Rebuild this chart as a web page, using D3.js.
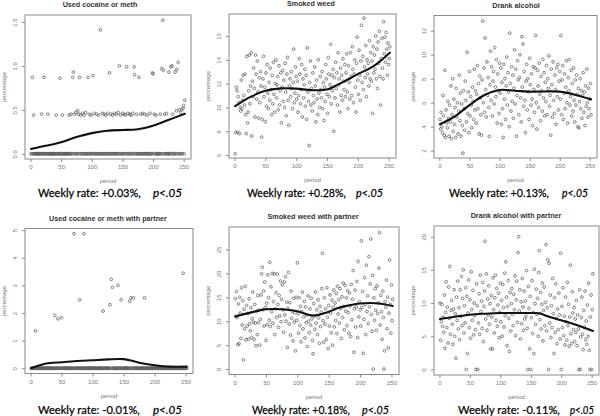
<!DOCTYPE html>
<html><head><meta charset="utf-8">
<script src="https://cdn.jsdelivr.net/npm/d3@7"></script>
<style>body{margin:0;background:#fff}svg{display:block;background:#fff}</style>
</head><body>
<svg id="c" width="600" height="416"></svg>
<script>
// ---------------- DATA ----------------
const titles = ["Used cocaine or meth","Smoked weed","Drank alcohol",
  "Used cocaine or meth with partner","Smoked weed with partner","Drank alcohol with partner"];
const rateLabels = ["Weekly rate: +0.03%,","Weekly rate: +0.28%,","Weekly rate: +0.13%,",
  "Weekly rate: -0.01%,","Weekly rate: +0.18%,","Weekly rate: -0.11%,"];
const pLabel = "p<.05";
const xTickValues = [0,50,100,150,200,250];
const yTickValues = [[0,0.5,1,1.5],[6,8,10,12,14,16],[2,4,6,8,10,12],[0,1,2,3,4,5],[0,5,10,15,20,25],[0,5,10,15,20]];
const xAxisTitle = "period";
const yAxisTitle = "percentage";

// smooth (loess) curves, read at these periods
const smoothPeriods = [1,25,50,75,100,125,150,165,175,200,225,252];
const cocaineSmooth = [0.055,0.09,0.13,0.19,0.235,0.262,0.27,0.273,0.278,0.32,0.385,0.455];
const weedSmooth = [10.1,10.86,11.4,11.6,11.58,11.45,11.5,11.85,12.1,12.8,13.45,14.6];
const alcoholSmooth = [4.2,4.83,5.8,6.64,7.06,7.0,6.92,6.93,6.94,6.92,6.67,6.28];
const cocainePartnerSmooth = [0.0,0.17,0.22,0.26,0.29,0.32,0.33,0.26,0.2,0.11,0.06,0.06];
const weedPartnerSmooth = [11.0,11.8,12.5,12.5,12.1,11.2,12.0,12.75,13.1,13.7,13.75,13.2];
const alcoholPartnerSmooth = [7.6,7.95,8.25,8.4,8.5,8.5,8.5,8.45,8.1,7.4,6.7,5.8];

// weekly values, periods 1..252
const cocaineValues = [
0,0,0.87,0,0.44,0,0,0,0,0,0,0,0,0,0,0,0,0.45,0,0,
0,0.87,0,0,0,0,0,0.45,0,0,0,0,0,0,0,0,0,0,0,0,
0,0.44,0,0,0,0,0,0.86,0,0,0,0.44,0,0,0,0,0,0,0,0,
0,0,0.44,0,0,0.45,0,0,0.87,0.93,0,0.45,0,0.47,0,0,0.49,0,0.45,0.87,
0,0.44,0,0,0.46,0,0.44,0,0,0.47,0,0,0,0.87,0,0.45,0,0,0.44,0,
0,0.89,0,0.46,0,0,0,0.45,0,0,0.44,0,0,1.41,0,0,0.46,0,0,0.45,
0,0,0.44,0,0,0.46,0,0,0.92,0,0.45,0,0,0.44,0,0,0.46,0,0,0.45,
0,0,0.47,0,1.0,0,0.44,0,0,0.46,0,0,0.45,0,0.44,0,0.99,0,0.46,0,
0,0.45,0,0.44,0,0,0.46,0,0.99,0.9,0,0,0.45,0,0,0,0.87,0,0,0.45,
0,0,0.46,0,0,0.45,0,0,0,0.44,0,0,0,0,0.46,0,0,0,0.92,0.91,
0,0.45,0,0,0.44,0,0,0,0,0,0,0.45,0,0.97,0,1.52,0.95,0,0.45,0,
0,0.46,0,0,0,0.93,0,0,0.99,0,1.0,0.45,0,0,0,0.93,0,0.49,0.96,0,
1.04,0,0.5,0,0.47,0,0.5,0,0.52,0.55,0,0.61];
const weedValues = [
6.1,7.9,11.7,11.4,7.9,10.9,10.4,7.8,10.0,9.7,12.3,9.9,10.6,12.7,11.0,10.2,12.8,9.4,7.8,14.3,
8.7,9.6,11.4,14.4,10.3,11.8,14.6,7.6,12.2,10.9,13.3,11.6,9.2,14.4,12.8,10.7,13.9,11.3,9.1,12.5,
10.4,13.0,11.8,7.5,9.0,12.4,14.3,10.9,11.7,8.8,12.9,10.1,13.6,11.2,9.9,12.1,10.6,13.3,11.5,9.4,
12.7,10.3,13.8,11.1,9.6,12.0,14.0,10.8,11.9,12.6,9.8,13.5,10.2,11.4,12.9,8.7,11.7,13.1,10.5,12.3,
10.0,13.7,11.3,9.3,12.8,14.2,10.6,8.5,11.8,12.4,10.9,13.0,11.6,9.9,12.1,14.9,10.4,11.2,13.4,12.6,
10.7,12.2,9.6,11.0,14.1,12.8,10.3,11.5,13.6,9.2,12.4,10.8,11.9,13.2,10.1,12.7,9.0,15.0,11.3,10.5,
6.8,12.1,13.9,10.2,11.6,9.7,12.9,11.0,10.4,13.4,11.8,8.8,12.3,10.7,9.4,14.0,11.2,10.0,12.6,11.5,
10.8,13.0,9.9,12.1,8.9,11.7,10.5,13.6,12.4,11.1,9.5,14.2,12.8,10.9,11.9,15.3,10.3,12.7,11.4,13.2,
8.0,12.5,10.8,13.8,11.6,12.9,10.2,14.6,11.9,12.4,9.6,13.3,11.0,12.7,10.6,14.1,12.2,11.5,13.6,10.9,
12.9,14.5,11.3,9.9,13.5,12.1,10.7,14.6,12.6,11.0,15.1,13.2,10.4,12.8,14.0,11.7,9.6,13.7,15.9,12.3,
11.1,14.8,12.7,10.6,13.9,16.9,12.1,14.3,11.5,17.5,13.4,12.5,15.2,10.9,14.0,12.8,13.7,11.8,15.6,12.4,
14.6,12.2,13.9,9.5,15.1,12.9,14.4,13.2,16.0,12.4,14.9,11.6,15.5,13.7,16.4,12.6,10.2,14.1,15.8,13.3,
12.4,17.2,14.5,15.9,13.8,16.3,14.9,12.7,15.4,13.6,14.1,15.1];
const alcoholValues = [
4.6,3.8,5.2,4.0,3.5,6.6,4.9,3.3,8.7,3.1,5.4,4.3,3.9,6.1,4.7,3.2,5.8,4.4,7.4,3.0,
5.0,8.0,3.6,6.3,4.2,5.6,3.1,7.2,4.8,6.0,3.4,5.3,8.3,4.5,6.8,3.2,5.9,4.1,1.8,7.0,
5.5,3.7,7.8,6.2,4.4,10.2,5.1,6.9,3.5,8.6,4.9,6.5,5.8,3.9,7.3,6.1,4.6,8.8,5.4,7.0,
4.3,6.7,9.1,5.5,7.6,3.4,8.2,6.4,5.0,3.3,7.9,12.8,6.0,8.9,5.2,11.4,7.1,4.8,9.4,6.6,
8.1,5.6,3.2,7.5,10.3,6.2,9.0,4.9,7.8,8.6,5.9,10.6,7.3,6.5,9.6,4.3,8.4,7.0,5.1,9.3,
6.8,8.9,4.2,7.7,5.5,3.1,9.2,6.3,8.0,4.6,7.4,9.8,5.8,8.5,6.9,4.0,11.8,7.6,5.3,9.0,
6.1,8.3,4.7,7.2,10.4,5.9,8.8,3.2,6.6,9.5,7.9,5.0,8.1,10.0,6.4,4.4,11.5,7.3,10.9,5.7,
8.6,6.2,3.5,7.8,9.2,5.4,8.0,6.9,4.6,9.7,7.5,5.8,8.4,6.3,4.1,9.0,7.1,5.2,8.9,11.6,
6.0,3.8,8.7,7.4,5.6,9.3,6.7,4.5,8.2,7.0,5.3,9.6,6.4,8.5,4.9,7.7,6.1,9.1,5.0,8.0,
7.2,9.9,5.7,6.6,3.3,8.8,7.5,4.8,9.4,6.2,5.1,8.3,7.1,4.2,8.9,6.5,9.2,5.4,7.8,8.6,
6.3,11.6,5.0,7.9,9.1,4.6,6.8,8.4,5.5,7.3,9.5,6.0,4.3,8.1,7.0,9.6,5.8,6.5,8.7,4.9,
7.6,5.3,8.9,6.2,4.4,7.9,5.8,8.3,6.7,4.0,7.2,3.9,6.1,8.0,5.5,7.0,4.7,6.6,8.5,5.2,
6.9,4.1,7.4,5.7,8.8,6.0,4.8,7.2,5.5,6.3,7.6,5.0];
const cocainePartnerValues = [
0,0,0,0,0,0,0,1.35,0,0,0,0,0,0,0,0,0,0,0,0,
0,0,0,0,0,0,0,0,0,0,0,0,0,0,0,0,0,0,1.91,0,
0,0,0,1.79,0,0,0,0,0,1.83,0,0,0,0,0,0,0,0,0,0,
0,0,0,0,0,0,0,0,0,4.87,0,0,0,0,0,0,0,0,2.48,0,
0,0,0,0,0,4.87,0,0,0,0,0,0,0,0,0,0,0,0,0,0,
0,0,0,0,0,0,0,0,0,0,0,0,0,0,0,0,2.07,0,0,0,
0,0,0,0,0,0,0,2.3,0,3.22,0,2.93,0,0,0,0,0,0,0,0,
3.0,0,0,0,0,2.48,0,0,0,0,0,0,0,0,0,0,0,0,0,2.43,
0,2.55,0,0,0,2.55,0,0,0,0,0,0,0,0,0,0,0,0,0,0,
0,0,0,2.55,0,0,0,0,0,0,0,0,0,0,0,0,0,0,0,0,
0,0,0,0,0,0,0,0,0,0,0,0,0,0,0,0,0,0,0,0,
0,0,0,0,0,0,0,0,0,0,0,0,0,0,0,0,0,0,0,0,
0,0,0,0,0,3.44,0,0,0,0,0,0];
const weedPartnerValues = [
14.7,11.0,16.2,10.8,5.1,13.6,5.3,15.0,11.7,6.4,17.0,9.2,14.3,1.9,12.5,8.4,17.3,6.1,13.3,9.0,
11.6,6.3,14.7,9.5,8.0,12.8,6.6,10.5,16.1,9.8,6.2,13.5,9.6,4.9,12.1,7.2,15.4,9.7,12.3,5.0,
10.4,15.5,19.9,21.3,12.4,16.3,9.0,18.2,12.9,6.0,13.8,9.3,19.7,14.9,10.2,22.3,8.9,17.2,12.0,20.0,
9.6,14.1,19.9,7.2,12.6,16.0,10.8,19.9,13.5,8.7,15.4,11.1,18.4,9.9,14.6,17.6,12.4,7.7,18.2,11.3,
19.3,10.0,14.0,4.5,12.7,20.2,9.4,13.9,7.1,16.3,10.6,12.0,5.9,14.8,9.8,11.8,3.8,15.0,10.2,22.2,
11.6,7.5,14.9,9.1,13.1,5.7,12.0,16.1,8.4,10.9,14.2,6.5,13.0,9.7,11.3,4.7,15.3,10.0,7.6,12.6,
9.2,14.8,10.5,6.0,3.2,13.7,11.1,8.3,16.1,9.6,12.4,7.2,14.5,10.7,5.4,13.1,8.9,11.9,16.8,24.2,
10.1,5.6,14.9,9.4,12.6,6.2,17.0,10.8,4.3,13.3,9.0,15.5,11.7,7.6,14.4,5.0,12.9,16.5,8.8,13.8,
10.2,15.8,7.4,17.3,11.5,14.5,9.6,16.8,12.6,6.4,15.1,10.8,18.0,13.1,8.2,17.5,12.1,14.9,9.1,16.4,
11.8,7.5,15.9,13.2,6.8,17.7,10.3,14.6,20.6,3.5,12.6,16.5,8.8,13.0,18.3,6.6,22.5,10.9,14.1,12.4,
9.0,26.8,12.9,16.2,3.3,10.4,19.1,13.5,7.2,21.7,12.0,15.3,9.5,23.5,13.0,17.8,27.2,11.4,7.9,19.6,
0,14.9,10.2,16.8,12.3,8.1,17.4,11.6,13.8,21.1,28.5,9.2,15.4,12.0,6.2,16.3,10.8,0,3.8,14.1,
12.9,18.6,8.4,15.0,4.4,11.7,22.8,13.5,7.5,17.6,10.1,14.6];
const alcoholPartnerValues = [
10.0,4.4,7.2,9.8,6.5,7.9,5.6,11.2,3.2,8.6,13.2,6.3,9.4,4.0,12.4,7.7,15.5,5.3,8.9,10.4,
6.8,3.8,9.1,12.0,5.0,8.4,1.7,10.9,7.4,13.3,6.1,9.3,4.5,12.0,8.0,14.0,6.6,10.7,15.0,5.5,
9.6,7.0,12.3,0,11.0,2.4,8.5,13.5,6.3,10.5,4.7,14.7,9.0,7.4,11.9,5.2,10.0,8.1,6.0,0,
12.9,9.6,0,7.0,11.4,5.3,14.2,8.7,10.3,6.2,13.1,4.2,9.5,11.8,19.3,7.6,14.4,5.9,10.6,8.2,
12.6,6.8,9.9,3.1,11.1,7.9,3.1,13.8,9.0,5.5,10.8,14.2,7.4,12.2,6.5,9.7,11.5,4.8,8.6,13.0,
7.2,10.4,5.0,12.8,9.3,6.4,14.5,8.1,16.2,10.9,3.6,9.5,13.4,7.7,2.7,11.6,5.8,9.9,12.2,8.3,
6.6,11.3,9.0,14.1,5.1,10.5,13.3,7.1,17.6,20.0,8.8,12.0,4.6,10.2,6.9,13.7,9.4,5.9,11.8,7.6,
10.3,8.0,14.9,6.2,0,12.5,9.2,3.1,11.0,0,7.8,13.4,5.4,8.6,2.4,15.1,9.9,6.8,12.1,8.3,
10.7,5.0,14.6,17.9,7.5,11.6,6.1,9.8,13.0,4.3,8.9,12.4,6.6,10.1,18.8,5.8,9.3,16.5,0,16.0,
7.0,11.2,4.8,9.6,6.3,13.7,8.4,2.4,10.8,5.6,12.9,7.7,3.9,9.1,6.0,11.5,8.2,4.6,17.5,0,
9.5,6.3,12.3,5.1,8.0,3.7,10.9,7.2,4.4,13.1,6.6,9.8,3.5,7.9,15.7,5.4,3.9,11.7,8.5,6.0,
9.3,4.2,7.6,5.6,10.4,3.6,8.2,6.1,0,12.0,0,4.9,7.8,10.9,5.3,3.0,8.9,6.4,11.8,4.5,
7.3,3.8,9.7,5.0,13.0,2.9,0,7.9,11.2,0,9.0,14.4];

// ---------------- LAYOUT ----------------
const xDomain = [-9, 262];
const layouts = [
  {l:25, r:191, t:15, b:159, yDom:[-0.06,1.58], fmt:".1f", titleX:100, rateX:38,  rateW:103, pX:153, pW:29, rateY:197},
  {l:229,r:396, t:14, b:158, yDom:[5.75,17.85], fmt:"d", titleX:311, rateX:247, rateW:99, pX:356, pW:27, rateY:197},
  {l:434,r:597, t:15.5,b:158, yDom:[1.39,13.27], fmt:"d", titleX:516, rateX:449, rateW:100, pX:562, pW:26, rateY:197},
  {l:25, r:193, t:228.5,b:373.5, yDom:[-0.19,5.06], fmt:"d", titleX:108, rateX:38, rateW:102, pX:153, pW:29, rateY:414},
  {l:229,r:399, t:227, b:374.5, yDom:[-1.14,29.7], fmt:"d", titleX:313, rateX:252, rateW:98, pX:362, pW:27, rateY:414},
  {l:434,r:599, t:226, b:375, yDom:[-0.83,21.6], fmt:"d", titleX:516, rateX:458, rateW:102, pX:570, pW:24, rateY:414}
];
const valueSets = [cocaineValues, weedValues, alcoholValues, cocainePartnerValues, weedPartnerValues, alcoholPartnerValues];
const smoothSets = [cocaineSmooth, weedSmooth, alcoholSmooth, cocainePartnerSmooth, weedPartnerSmooth, alcoholPartnerSmooth];

const svg = d3.select("#c");
svg.append("rect").attr("width",600).attr("height",416).attr("fill","#fff");
const axisColor = "#8a8a8a", labelColor = "#777";
const smallFont = "'Liberation Sans', Arial, sans-serif";
const captionFont = "Lato, 'Open Sans', sans-serif";

// caption text squeezed horizontally to a target width
function caption(g, str, x0, y0, w, italic) {
  const t = g.append("text").attr("x",0).attr("y",0)
    .attr("font-size",12).attr("font-family",captionFont).attr("fill","#000")
    .attr("stroke","#000").attr("stroke-width",0.25)
    .attr("font-style", italic ? "italic" : "normal").text(str);
  const nat = t.node().getComputedTextLength();
  t.attr("transform",`translate(${x0},${y0}) scale(${w/nat},1)`);
}

layouts.forEach((L, k) => {
  const g = svg.append("g");
  const x = d3.scaleLinear().domain(xDomain).range([L.l, L.r]);
  const y = d3.scaleLinear().domain(L.yDom).range([L.b, L.t]);

  // points
  g.append("g").selectAll("circle").data(valueSets[k]).join("circle")
    .attr("cx", (d,i) => x(i+1)).attr("cy", d => y(d)).attr("r", 1.4)
    .attr("fill", "none").attr("stroke", "#5e5e5e").attr("stroke-width", 0.75);

  // smooth line
  const line = d3.line().x((d,i) => x(smoothPeriods[i])).y(d => y(d)).curve(d3.curveCatmullRom.alpha(0.5));
  g.append("path").datum(smoothSets[k]).attr("d", line)
    .attr("fill","none").attr("stroke","#111").attr("stroke-width",2.1).attr("stroke-linecap","round");

  // box
  g.append("rect").attr("x",L.l).attr("y",L.t).attr("width",L.r-L.l).attr("height",L.b-L.t)
    .attr("fill","none").attr("stroke",axisColor).attr("stroke-width",1);

  // x axis
  const xa = g.append("g").attr("transform",`translate(0,${L.b})`)
    .call(d3.axisBottom(x).tickValues(xTickValues).tickSize(3).tickPadding(3).tickFormat(d3.format("d")));
  xa.select(".domain").remove();
  xa.selectAll("line").attr("stroke",axisColor);
  xa.selectAll("text").attr("fill",labelColor).attr("font-size",6).attr("font-family",smallFont);

  // y axis (rotated labels as in R)
  const ya = g.append("g").attr("transform",`translate(${L.l},0)`)
    .call(d3.axisLeft(y).tickValues(yTickValues[k]).tickSize(3).tickFormat(d3.format(L.fmt)));
  ya.select(".domain").remove();
  ya.selectAll("line").attr("stroke",axisColor);
  ya.selectAll("text").attr("x",null).attr("dy",null)
    .attr("transform","translate(-8,0) rotate(-90)")
    .attr("text-anchor","middle").attr("fill",labelColor)
    .attr("font-size",6).attr("font-family",smallFont);

  // axis titles
  g.append("text").attr("x",(L.l+L.r)/2).attr("y",L.b+24).attr("text-anchor","middle")
    .attr("font-size",6).attr("font-family",smallFont).attr("fill",labelColor).text(xAxisTitle);
  g.append("text").attr("transform",`translate(${L.l-19},${(L.t+L.b)/2}) rotate(-90)`)
    .attr("text-anchor","middle").attr("font-size",6).attr("font-family",smallFont)
    .attr("fill",labelColor).text(yAxisTitle);

  // panel title
  g.append("text").attr("x",L.titleX).attr("y",L.t-8).attr("text-anchor","middle")
    .attr("font-size",7.2).attr("font-weight","bold").attr("font-family",smallFont)
    .attr("fill","#333").text(titles[k]);

  // weekly rate caption
  caption(g, rateLabels[k], L.rateX, L.rateY, L.rateW, false);
  caption(g, pLabel, L.pX, L.rateY, L.pW, true);
});
</script>
</body></html>
